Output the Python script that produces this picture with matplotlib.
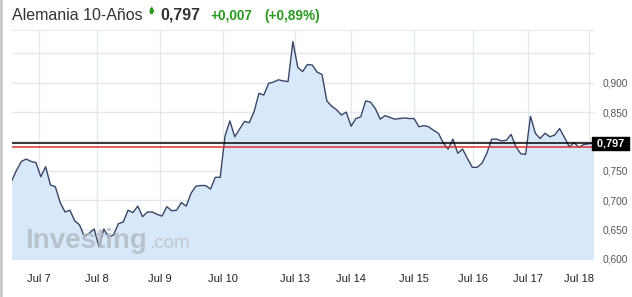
import matplotlib
matplotlib.use("Agg")
import matplotlib.pyplot as plt
import matplotlib.transforms as mtransforms
import numpy as np

plt.rcParams['font.family'] = ['Liberation Sans', 'DejaVu Sans']

# --- data ---
values = [0.733, 0.751, 0.766, 0.770, 0.766, 0.764, 0.740, 0.757, 0.726, 0.723,
          0.696, 0.680, 0.683, 0.665, 0.658, 0.638, 0.644, 0.651, 0.621, 0.651,
          0.637, 0.641, 0.660, 0.663, 0.683, 0.679, 0.690, 0.672, 0.680, 0.680,
          0.676, 0.673, 0.689, 0.682, 0.683, 0.696, 0.690, 0.712, 0.724, 0.725,
          0.725, 0.719, 0.739, 0.739, 0.809, 0.835, 0.808, 0.821, 0.834, 0.832,
          0.851, 0.882, 0.879, 0.899, 0.901, 0.905, 0.903, 0.902, 0.970, 0.926,
          0.919, 0.931, 0.930, 0.918, 0.914, 0.869, 0.860, 0.854, 0.845, 0.850,
          0.826, 0.839, 0.842, 0.869, 0.867, 0.856, 0.838, 0.844, 0.841, 0.838,
          0.839, 0.840, 0.839, 0.839, 0.825, 0.827, 0.825, 0.819, 0.814, 0.798,
          0.787, 0.804, 0.780, 0.787, 0.771, 0.756, 0.756, 0.763, 0.780, 0.804,
          0.804, 0.801, 0.802, 0.812, 0.791, 0.779, 0.778, 0.843, 0.814, 0.805,
          0.814, 0.808, 0.811, 0.822, 0.807, 0.791, 0.798, 0.790, 0.795, 0.796,
          0.797]
tick_pos = [5.6, 17.5, 30.6, 43.6, 58.4, 69.9, 83.0, 95.2, 106.4, 119.1]
tick_labels = ["Jul 7", "Jul 8", "Jul 9", "Jul 10", "Jul 13", "Jul 14",
               "Jul 15", "Jul 16", "Jul 17", "Jul 18"]
y_ticks = [0.600, 0.650, 0.700, 0.750, 0.800, 0.850, 0.900, 0.950]
y_labels = ["0,600", "0,650", "0,700", "0,750", "", "0,850", "0,900", ""]
last_price = 0.797
prev_close = 0.790

W, H = 632, 297
fig = plt.figure(figsize=(W / 100, H / 100), dpi=100)
fig.patch.set_facecolor("white")

L, R, T, B = 11.7, 594, 30, 259
ax = fig.add_axes([L / W, (H - B) / H, (R - L) / W, (B - T) / H])
x = np.arange(len(values))
ax.fill_between(x, values, 0.5, color="#d8e8fb", lw=0, zorder=1)
ax.plot(x, values, color="#3a4566", lw=1.0, zorder=3)
ax.axhline(prev_close, color="#e03030", lw=1.1, zorder=4)
ax.axhline(last_price, color="black", lw=1.1, zorder=4)

ax.set_xlim(0, 120.1)
ax.set_ylim(0.600, 0.9897)
ax.set_xticks(tick_pos)
ax.set_xticklabels(tick_labels)
ax.set_yticks(y_ticks)
ax.set_yticklabels(y_labels)
ax.yaxis.tick_right()
ax.tick_params(axis="both", length=0)
ax.tick_params(axis="x", labelsize=8, colors="#222222", pad=11)
ax.tick_params(axis="y", labelsize=7.3, colors="#555555", pad=6)
for lab in ax.get_xticklabels():
    if lab.get_text() == "Jul 18":
        lab.set_transform(lab.get_transform() +
                          mtransforms.ScaledTranslation(-10 / 100, 0, fig.dpi_scale_trans))
ax.grid(True, color="#e4e7ee", lw=1.0, zorder=0)
ax.set_axisbelow(True)
for s in ["left", "bottom", "right"]:
    ax.spines[s].set_visible(False)
ax.spines["top"].set_color("#e4e7ee")

# price box
ax.text(1.0, last_price, " 0,797 ", transform=ax.get_yaxis_transform(),
        ha="left", va="center", color="white", fontsize=7.8, fontweight="bold",
        bbox=dict(boxstyle="square,pad=0.15", fc="black", ec="black"), zorder=6,
        clip_on=False)

# watermark
fig.text(25 / W, (H - 248) / H, "Investing", fontsize=20, fontweight="bold",
         color="#b4bbc6", alpha=0.85, ha="left", va="baseline", zorder=10)
fig.text(149 / W, (H - 248) / H, ".com", fontsize=13.5, color="#bcc2cb",
         alpha=0.85, ha="left", va="baseline", zorder=10)

# title
fig.text(12 / W, (H - 20) / H, "Alemania 10-Años", fontsize=11.5,
         color="#333333", ha="left", va="baseline")
fig.text(151 / W, (H - 12) / H, "\u25B2", fontsize=7, color="#2a9a20",
         ha="center", va="baseline")
fig.add_artist(plt.Line2D([151 / W, 151 / W], [(H - 12) / H, (H - 9) / H],
                          color="#2a9a20", lw=2.2, transform=fig.transFigure))
fig.text(160 / W, (H - 20) / H, "0,797", fontsize=11.5, fontweight="bold",
         color="#333333", ha="left", va="baseline")
fig.text(210 / W, (H - 20) / H, "+0,007", fontsize=9.8, fontweight="bold",
         color="#2a9a20", ha="left", va="baseline")
fig.text(264 / W, (H - 20) / H, "(+0,89%)", fontsize=9.8, fontweight="bold",
         color="#2a9a20", ha="left", va="baseline")

# left frame line
fig.add_artist(plt.Line2D([1 / W, 1 / W], [0, 1], color="#c8c8c8", lw=2,
                          transform=fig.transFigure))

fig.savefig("out.png", dpi=100, facecolor="white")
